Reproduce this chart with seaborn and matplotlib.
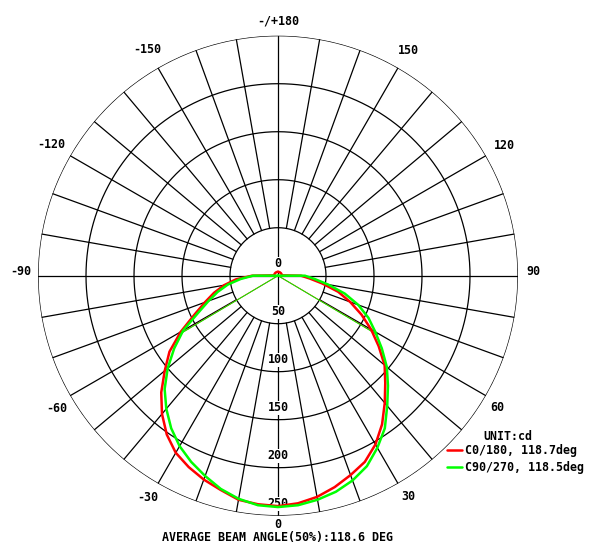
import numpy as np
import pandas as pd
import matplotlib
matplotlib.use("Agg")
import matplotlib.pyplot as plt
from matplotlib.lines import Line2D
import seaborn as sns

# ---------------- data ----------------
ANGLES = [0, 5, 10, 15, 20, 25, 30, 35, 40, 45, 50, 55, 60, 65, 70, 75, 80, 85, 90]
C0_SIDE = [240, 238, 234, 228, 221, 214, 203, 189, 173, 158, 145, 128, 112, 96, 80, 65, 47, 33, 24]
C180_SIDE = [240, 239, 237, 231, 226, 220, 213, 202, 188, 172, 154, 138, 117, 96, 81, 69, 57, 44, 27]
C90_SIDE = [241, 240, 237, 233, 227, 219, 207, 194, 177, 162, 148, 132, 117, 104, 89, 72, 53, 38, 28]
C270_SIDE = [241, 240, 236, 230, 222, 214, 205, 194, 181, 167, 150, 132, 114, 92, 77, 65, 53, 39, 26]
BACK_ANGLES = [95, 100, 110, 120, 130, 140, 150, 160, 170, 180]
RED_BACK = [4, 4, 4, 4, 4, 4, 4, 4, 4, 4]
GREEN_BACK = [0, 0, 0, 0, 0, 0, 0, 0, 0, 0]

SERIES = ["C0/180, 118.7deg", "C90/270, 118.5deg"]
BEAM_ANGLES = [118.7, 118.5]
AVG_BEAM = 118.6
COLORS = ["#ff0000", "#00ff00"]

RINGS = [50, 100, 150, 200, 250]
R_MAX = 250
ANGLE_TICKS = [0, 30, 60, 90, 120, 150, 180, -30, -60, -90, -120, -150]
ANGLE_TEXT = ["0", "30", "60", "90", "120", "150", "-/+180", "-30", "-60", "-90", "-120", "-150"]


def full_curve(right, left, back):
    ang = [-a for a in BACK_ANGLES[::-1]] + [-a for a in ANGLES[::-1]] + ANGLES[1:] + BACK_ANGLES
    val = back[::-1] + left[::-1] + right[1:] + back
    return ang, val


rows = []
for name, (right, left, back) in zip(SERIES, [(C0_SIDE, C180_SIDE, RED_BACK),
                                              (C90_SIDE, C270_SIDE, GREEN_BACK)]):
    a, v = full_curve(right, left, back)
    for ai, vi in zip(a, v):
        rows.append({"theta": np.deg2rad(ai), "cd": vi, "plane": name})
df = pd.DataFrame(rows)

# ---------------- figure ----------------
sns.set_theme(style="white")
plt.rcParams["font.family"] = ["DejaVu Sans Mono"]
plt.rcParams["font.weight"] = "bold"
plt.rcParams["text.color"] = "black"
FS = 8.4

W, H = 601, 553
CX, CY, RPX = 278, 275.7, 240
fig = plt.figure(figsize=(W / 100, H / 100), dpi=100)
fig.patch.set_facecolor("white")
ax = fig.add_axes([(CX - RPX) / W, (H - CY - RPX) / H, 2 * RPX / W, 2 * RPX / H],
                  projection="polar")
ax.set_theta_zero_location("S")
ax.set_theta_direction(1)
ax.set_ylim(0, R_MAX)
ax.grid(False)
ax.set_xticks([])
ax.set_yticks([])
ax.spines["polar"].set_visible(False)
ax.set_facecolor("white")

# grid rings
tt = np.linspace(0, 2 * np.pi, 721)
for r in RINGS:
    ax.plot(tt, np.full_like(tt, r), color="black", lw=0.9, zorder=1)
# radial lines
for a in range(-170, 181, 10):
    th = np.deg2rad(a)
    r0 = 0 if a % 90 == 0 else RINGS[0]
    ax.plot([th, th], [r0, R_MAX], color="black", lw=0.9, zorder=1)

# radial value labels (above grid, below curves)
ax.text(np.pi, 12.5, "0", ha="center", va="center", fontsize=FS, zorder=1.5,
        color="black", bbox=dict(facecolor="white", edgecolor="none", pad=0.5))
for r in RINGS:
    ax.text(0, r - 12.5, str(r), ha="center", va="center", fontsize=FS, zorder=1.5,
            color="black", bbox=dict(facecolor="white", edgecolor="none", pad=0.5))

# curves
sns.lineplot(data=df, x="theta", y="cd", hue="plane", hue_order=SERIES,
             palette=dict(zip(SERIES, COLORS)), sort=False, estimator=None,
             lw=1.8, legend=False, ax=ax, zorder=3)
ax.set_xlabel("")
ax.set_ylabel("")
ax.set_ylim(0, R_MAX)

# beam angle lines (50% of max)
for ba, col, right in zip(BEAM_ANGLES, COLORS, [C0_SIDE, C90_SIDE]):
    half = 0.5 * max(right)
    for s in (-1, 1):
        th = np.deg2rad(s * ba / 2)
        ax.plot([th, th], [0, half], color=col, lw=0.7, zorder=2)

# angle labels
LABEL_R_PX = [249, 256, 256, 255, 261, 260, 255, 257, 258, 257, 262, 261]
LABEL_DA = [0, 0.5, -0.9, 0.9, 0, 0, 0, -0.5, 0.9, -0.9, 0, 0]
for a, txt, rp, da in zip(ANGLE_TICKS, ANGLE_TEXT, LABEL_R_PX, LABEL_DA):
    ax.text(np.deg2rad(a + da), rp * R_MAX / RPX, txt, ha="center", va="center",
            fontsize=FS, color="black", clip_on=False)

# legend
fig.text(483 / W, 1 - 436 / H, "UNIT:cd", ha="left", va="center", fontsize=FS,
         color="black")
handles = [Line2D([], [], color=c, lw=1.8) for c in COLORS]
leg = fig.legend(handles, SERIES, loc="upper left", bbox_to_anchor=(447 / W, 1 - 444 / H),
                 frameon=False, fontsize=FS, handlelength=1.25, handletextpad=0.3,
                 labelspacing=0.38, borderpad=0, borderaxespad=0)
for t in leg.get_texts():
    t.set_color("black")

fig.text(277 / W, 1 - 537 / H, f"AVERAGE BEAM ANGLE(50%):{AVG_BEAM} DEG",
         ha="center", va="center", fontsize=FS, color="black")

fig.savefig("out.png", dpi=100, facecolor="white")
